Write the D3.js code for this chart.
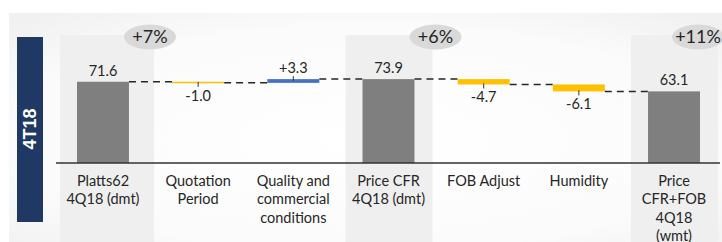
<!DOCTYPE html>
<html>
<head>
<meta charset="utf-8">
<script src="https://cdn.jsdelivr.net/npm/d3@7"></script>
<style>
  body { margin: 0; background: #fff; }
  svg { display: block; font-family: Lato, "Open Sans", sans-serif; }
</style>
</head>
<body>
<div id="chart-container"></div>
<script>
const width = 722;
const height = 242;

// Chart data

const categories = [
  ["Platts62", "4Q18 (dmt)"],
  ["Quotation", "Period"],
  ["Quality and", "commercial", "conditions"],
  ["Price CFR", "4Q18 (dmt)"],
  ["FOB Adjust"],
  ["Humidity"],
  ["Price", "CFR+FOB", "4Q18", "(wmt)"]
];
const values = [71.6, -1.0, 3.3, 73.9, -4.7, -6.1, 63.1];
const isTotal = [true, false, false, true, false, false, true];
const valueLabels = ["71.6", "-1.0", "+3.3", "73.9", "-4.7", "-6.1", "63.1"];
const pctLabels = ["+7%", "+6%", "+11%"];
const sideLabel = "4T18";

// Building the waterfall steps

let level = 0;
const steps = values.map((v, i) => {
  let start, end;
  if (isTotal[i]) { start = 0; end = v; level = v; }
  else { start = level; end = level + v; level = end; }
  return { i, v, start, end, total: isTotal[i], label: valueLabels[i] };
});

// Scales

const baseY = 163;
const x = d3.scaleBand()
  .domain(d3.range(categories.length))
  .range([77, 700])
  .paddingInner(0.454)
  .paddingOuter(0);

const y = d3.scaleLinear()
  .domain([0, 80])
  .range([baseY, baseY - 80 * 1.135]);

const svg = d3.select("#chart-container")
  .append("svg")
  .attr("width", width)
  .attr("height", height);

// Background panel

const defs = svg.append("defs");
const grad = defs.append("radialGradient")
  .attr("id", "bg")
  .attr("cx", "50%").attr("cy", "55%").attr("r", "70%");
grad.append("stop").attr("offset", "0%").attr("stop-color", "#ffffff");
grad.append("stop").attr("offset", "70%").attr("stop-color", "#fbfbfb");
grad.append("stop").attr("offset", "100%").attr("stop-color", "#f1f1f1");

svg.append("rect")
  .attr("x", 9)
  .attr("y", 13)
  .attr("width", width - 9)
  .attr("height", height - 13)
  .attr("fill", "url(#bg)");

// Highlight columns behind totals

const totals = steps.filter(d => d.total);
const cx = d => x(d.i) + x.bandwidth() / 2;

svg.selectAll(".hl")
  .data(totals)
  .join("rect")
  .attr("class", "hl")
  .attr("x", d => cx(d) - 43)
  .attr("y", 35)
  .attr("width", (d, j) => j === 0 ? 94 : 87)
  .attr("height", height - 35)
  .attr("fill", "#efefef");

// Side label box

svg.append("rect")
  .attr("x", 17)
  .attr("y", 37)
  .attr("width", 26)
  .attr("height", 185)
  .attr("fill", "#203864");

svg.append("text")
  .attr("transform", "translate(30,129) rotate(-90)")
  .attr("dy", "0.36em")
  .style("text-anchor", "middle")
  .style("fill", "#fff")
  .style("font-weight", "bold")
  .style("font-size", "18px")
  .style("font-family", "'Liberation Sans', Arial, sans-serif")
  .text(sideLabel);

// Dashed connectors

svg.selectAll(".conn")
  .data(steps.slice(0, -1))
  .join("line")
  .attr("class", "conn")
  .attr("x1", d => x(d.i) + x.bandwidth())
  .attr("x2", d => x(d.i + 1))
  .attr("y1", d => y(d.end))
  .attr("y2", d => y(d.end))
  .attr("stroke", "#262626")
  .attr("stroke-width", 1.5)
  .attr("stroke-dasharray", "7,5");

// Bars

svg.selectAll(".bar")
  .data(steps)
  .join("rect")
  .attr("class", "bar")
  .attr("x", d => x(d.i))
  .attr("width", x.bandwidth())
  .attr("y", d => y(Math.max(d.start, d.end)))
  .attr("height", d => Math.max(1.5, Math.abs(y(d.start) - y(d.end))))
  .attr("fill", d => d.total ? "#7f7f7f" : (d.v < 0 ? "#ffc000" : "#4472c4"));

// Small leader ticks on delta bars

svg.selectAll(".tk")
  .data(steps.filter(d => !d.total))
  .join("line")
  .attr("class", "tk")
  .attr("x1", cx)
  .attr("x2", cx)
  .attr("y1", d => d.v < 0 ? y(d.end) - 1 : y(d.end) - 3)
  .attr("y2", d => d.v < 0 ? y(d.end) + 4 : y(d.end) + 2)
  .attr("stroke", "#333")
  .attr("stroke-width", 1);

// Baseline

svg.append("line")
  .attr("x1", 56)
  .attr("x2", 720)
  .attr("y1", baseY)
  .attr("y2", baseY)
  .attr("stroke", "#333")
  .attr("stroke-width", 1.3);

// Value labels

svg.selectAll(".val")
  .data(steps)
  .join("text")
  .attr("class", "val")
  .attr("x", cx)
  .attr("y", d => d.v < 0 ? y(d.end) + 18 : y(d.end) - 6)
  .style("text-anchor", "middle")
  .style("font-size", "14.5px")
  .style("fill", "#262626")
  .text(d => d.label);

// Category labels

const cat = svg.selectAll(".cat")
  .data(steps)
  .join("text")
  .attr("class", "cat")
  .attr("x", cx)
  .attr("y", 186)
  .style("text-anchor", "middle")
  .style("font-size", "14.5px")
  .style("fill", "#262626");

cat.selectAll("tspan")
  .data(d => categories[d.i].map(t => ({ t, x: cx(d) })))
  .join("tspan")
  .attr("x", d => d.x)
  .attr("dy", (d, j) => j === 0 ? 0 : 18.3)
  .text(d => d.t);

// Percentage bubbles

const pct = svg.selectAll(".pct")
  .data(totals)
  .join("g")
  .attr("class", "pct")
  .attr("transform", d => `translate(${Math.min(cx(d) + 47, width - 24)},37)`);

pct.append("ellipse")
  .attr("rx", 26)
  .attr("ry", 12.5)
  .attr("fill", "#d9d9d9");

pct.append("text")
  .attr("dy", "0.35em")
  .style("text-anchor", "middle")
  .style("font-size", "18px")
  .style("fill", "#262626")
  .text((d, j) => pctLabels[j]);
</script>
</body>
</html>
